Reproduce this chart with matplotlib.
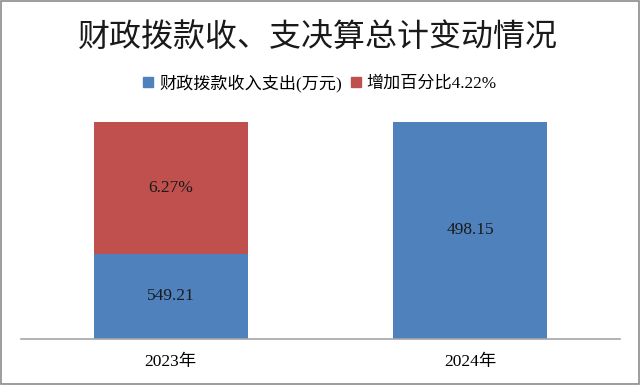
import matplotlib
matplotlib.use('Agg')
import matplotlib.pyplot as plt
from matplotlib.patches import Rectangle, Patch

# data
years = ['2023年', '2024年']
blue_share = [39.2, 100.0]   # bar share (%) of the blue part
red_share = [60.8, 0.0]      # bar share (%) of the red part
blue_labels = ['549.21', '498.15']
red_labels = ['6.27%', '']
legend_names = ['财政拨款收入支出(万元)', '增加百分比4.22%']
title = '财政拨款收、支决算总计变动情况'

blue = '#4F81BD'
red = '#C0504D'
mixed = ['Liberation Serif', 'Noto Sans CJK SC']

fig = plt.figure(figsize=(6.4, 3.85), dpi=100)
ax = fig.add_axes([21 / 640, 1 - 339 / 385, 599 / 640, 217 / 385])

x = range(len(years))
ax.bar(x, blue_share, width=0.514, color=blue, zorder=2)
ax.bar(x, red_share, width=0.514, bottom=blue_share, color=red, zorder=2)

for i in x:
    ax.text(i, blue_share[i] / 2, blue_labels[i], ha='center', va='center',
            fontsize=12.5, family=mixed, color='#1a1a1a')
    if red_labels[i]:
        ax.text(i, blue_share[i] + red_share[i] / 2, red_labels[i], ha='center',
                va='center', fontsize=12.5, family=mixed, color='#1a1a1a')

ax.set_xlim(-0.5, 1.5)
ax.set_ylim(0, 100)
ax.set_yticks([])
ax.set_xticks(list(x))
ax.set_xticklabels(years, family=mixed, fontsize=12.5)
ax.tick_params(axis='x', length=0, pad=11)
for s in ['top', 'right', 'left']:
    ax.spines[s].set_visible(False)
ax.spines['bottom'].set_color('#a6a6a6')
ax.spines['bottom'].set_linewidth(1.2)
ax.set_facecolor('none')

fig.text(318 / 640, 1 - 38 / 385, title, ha='center', va='center',
         fontsize=23, fontweight='medium',
         family=['Noto Sans CJK SC', 'DejaVu Sans'], color='#1a1a1a')

handles = [Patch(color=blue), Patch(color=red)]
fig.legend(handles, legend_names, loc='center', ncol=2,
           bbox_to_anchor=(320 / 640, 1 - 83 / 385), frameon=False,
           prop={'family': mixed, 'size': 12.3},
           handlelength=0.6, handleheight=0.6, handletextpad=0.35,
           columnspacing=0.5)

fig.patches.append(Rectangle((0.001, 0.002), 0.997, 0.996, transform=fig.transFigure,
                             fill=False, edgecolor='#8c8c8c', linewidth=1.2))

fig.savefig('out.png', dpi=100)
